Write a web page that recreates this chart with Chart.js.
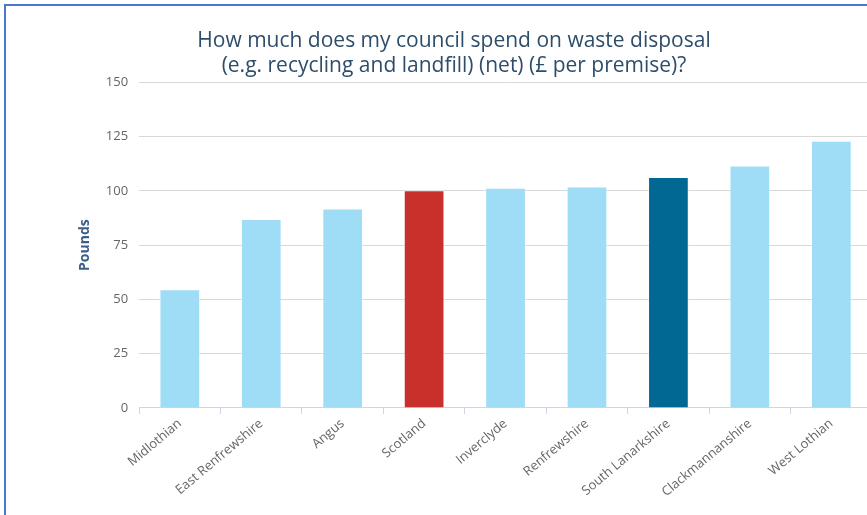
<!DOCTYPE html>
<html>
<head>
<meta charset="utf-8">
<script src="https://cdn.jsdelivr.net/npm/chart.js@4/dist/chart.umd.min.js"></script>
<style>
  html, body { margin: 0; padding: 0; background: #fff; overflow: hidden; }
  #frame { position: absolute; left: 4px; top: 4px; width: 900px; height: 600px;
           border-left: 2px solid #4a78d0; border-top: 2px solid #4a78d0; }
  #wrap { position: absolute; left: 0; top: 0; width: 896px; height: 496px; }
</style>
</head>
<body>
<div id="frame"><div id="wrap"><canvas id="c"></canvas></div></div>
<script>
const categories = ["Midlothian", "East Renfrewshire", "Angus", "Scotland", "Inverclyde",
                    "Renfrewshire", "South Lanarkshire", "Clackmannanshire", "West Lothian"];
const values = [54.6, 87.0, 91.8, 100.3, 101.4, 102.0, 106.3, 111.7, 123.1];
const barColors = ["#9fdcf5", "#9fdcf5", "#9fdcf5", "#c8302b", "#9fdcf5",
                   "#9fdcf5", "#006892", "#9fdcf5", "#9fdcf5"];
const yTicks = [0, 25, 50, 75, 100, 125, 150];
const titleLines = ["How much does my council spend on waste disposal",
                    "(e.g. recycling and landfill) (net) (£ per premise)?"];
const yAxisTitle = "Pounds";

const FONT = "'Open Sans', sans-serif";

new Chart(document.getElementById("c"), {
  type: "bar",
  data: {
    labels: categories,
    datasets: [{
      data: values,
      backgroundColor: barColors,
      borderColor: "rgba(255,255,255,0.45)",
      borderWidth: 1,
      barPercentage: 0.5,
      categoryPercentage: 1.0
    }]
  },
  options: {
    responsive: true,
    maintainAspectRatio: false,
    animation: false,
    layout: { padding: { left: 30, right: 30, top: 0, bottom: 0 } },
    plugins: {
      legend: { display: false },
      tooltip: { enabled: false },
      title: {
        display: true,
        text: titleLines,
        color: "#2e4d6b",
        font: { family: FONT, size: 21, weight: "normal", lineHeight: 1.22 },
        padding: { top: 22, bottom: 3 }
      }
    },
    scales: {
      x: {
        grid: { display: true, drawOnChartArea: false, drawTicks: true, tickLength: 6,
                color: "#ccd6eb", offset: true },
        border: { display: true, color: "#ccd6eb", width: 1 },
        ticks: {
          color: "#666666",
          font: { family: FONT, size: 13 },
          minRotation: 40, maxRotation: 40,
          padding: 2,
          autoSkip: false
        }
      },
      y: {
        min: 0, max: 150,
        afterBuildTicks: (axis) => { axis.ticks = yTicks.map(v => ({ value: v })); },
        grid: { color: "#d8d8d8", lineWidth: 1, drawTicks: false },
        border: { display: false },
        ticks: {
          color: "#666666",
          font: { family: FONT, size: 13 },
          padding: 11
        },
        title: {
          display: true,
          text: yAxisTitle,
          color: "#3d5f86",
          font: { family: FONT, size: 14, weight: "bold" },
          padding: { top: 41, bottom: 1 }
        }
      }
    }
  }
});
</script>
</body>
</html>
